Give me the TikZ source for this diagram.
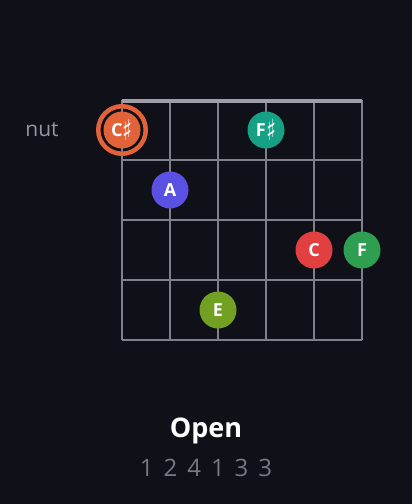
\documentclass[tikz,border=0pt]{standalone}
\usepackage{fontspec}
\setmainfont{Open Sans}
\newfontfamily\symfont{DejaVu Sans}
\usepackage{graphicx}
\usepackage{tikz}
\usetikzlibrary{positioning}
\usepackage{xcolor}
\definecolor{bgdark}{RGB}{15,16,24}
\definecolor{fretgray}{RGB}{128,128,140}
\definecolor{nutgray}{RGB}{158,158,168}
\definecolor{labelgray}{RGB}{150,150,160}
\definecolor{fingergray}{RGB}{120,120,130}
\definecolor{rootorange}{RGB}{226,98,58}
\definecolor{noteteal}{RGB}{22,160,133}
\definecolor{notepurple}{RGB}{90,80,226}
\definecolor{notered}{RGB}{226,64,64}
\definecolor{notegreen}{RGB}{46,158,80}
\definecolor{noteolive}{RGB}{114,160,34}
\newcommand{\sharpsign}{\kern0.5pt\smash{\raisebox{-4.5pt}{\scalebox{1.15}[1.6]{\symfont\mdseries ♯}}}}

\begin{document}
\begin{tikzpicture}[x=1pt, y=-1pt,
  note/.style={circle, minimum size=37pt, inner sep=0pt, text=white,
    font=\fontsize{18}{18}\selectfont\bfseries}]
  % Background
  \fill[bgdark] (0,0) rectangle (412,504);
  \useasboundingbox (0,0) rectangle (412,504);

  % Strings
  \foreach \s in {0,...,5} {
    \draw[fretgray, line width=1.3pt] (122+48*\s,100) -- (122+48*\s,340);
  }
  % Frets
  \foreach \f in {1,...,4} {
    \draw[fretgray, line width=1.3pt] (122,100+60*\f) -- (362,100+60*\f);
  }
  % Nut
  \draw[nutgray, line width=4.5pt] (122,101) -- (362,101);
  \node[text=labelgray, font=\fontsize{21}{21}\selectfont] (nutlabel) at (42,130) {nut};

  % Notes
  \node[note, fill=rootorange] (cs) at (122,130) {C\sharpsign};
  \draw[rootorange, line width=4.5pt] (cs.center) circle (23.75);
  \node[note, fill=noteteal] (fs) at (266,130) {F\sharpsign};
  \node[note, fill=notepurple] (a) at (170,190) {A};
  \node[note, fill=notered] (c) at (314,250) {C};
  \node[note, fill=notegreen] (f) at (362,250) {F};
  \node[note, fill=noteolive] (e) at (218,310) {E};

  % Chord name and fingering
  \node[text=white, font=\fontsize{27}{27}\selectfont\bfseries] (name) at (206,431) {Open};
  \node[text=fingergray, font=\fontsize{24}{24}\selectfont] (fingers) at (206,468)
    {\spaceskip=10pt 1 2 4 1 3 3};
\end{tikzpicture}
\end{document}
